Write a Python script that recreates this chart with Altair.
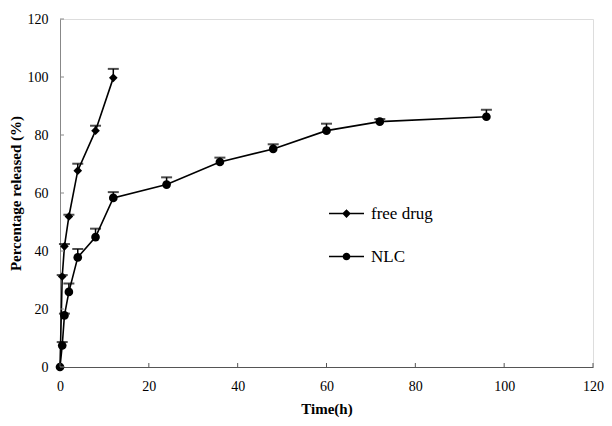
import altair as alt
import pandas as pd

# ---- data ----
free_t = [0, 0.5, 1, 2, 4, 8, 12]
free_y = [0, 31.2, 41.6, 51.9, 67.7, 81.5, 99.7]
free_err = [0, 0.5, 0.8, 0.6, 2.4, 1.7, 3.1]

nlc_t = [0, 0.5, 1, 2, 4, 8, 12, 24, 36, 48, 60, 72, 96]
nlc_y = [0, 7.4, 17.8, 25.9, 37.8, 44.8, 58.3, 62.9, 70.7, 75.2, 81.5, 84.6, 86.3]
nlc_err = [0, 1.2, 0.6, 2.9, 2.9, 2.9, 2.0, 2.5, 1.5, 1.6, 2.4, 0.9, 2.4]

series_names = ["free drug", "NLC"]
x_ticks = [0, 20, 40, 60, 80, 100, 120]
y_ticks = [0, 20, 40, 60, 80, 100, 120]

rows = []
for t, y, e in zip(free_t, free_y, free_err):
    rows.append({"series": series_names[0], "t": t, "y": y, "top": y + e})
for t, y, e in zip(nlc_t, nlc_y, nlc_err):
    rows.append({"series": series_names[1], "t": t, "y": y, "top": y + e})
df = pd.DataFrame(rows)
df_err = df[df["top"] > df["y"]]

W, H = 533, 348
FONT = "'Liberation Serif', 'Times New Roman', Times, serif"

xs = alt.Scale(domain=[0, 120], nice=False, zero=True)
ys = alt.Scale(domain=[0, 120], nice=False, zero=True)

x_enc = alt.X("t:Q", scale=xs, axis=alt.Axis(
    title="Time(h)", values=x_ticks, ticks=False, grid=False,
    domainColor="#555555", domainWidth=1,
    labelFont=FONT, labelFontSize=14, labelColor="black", labelPadding=12,
    titleFont=FONT, titleFontSize=15, titleFontWeight="bold", titleColor="black",
    titlePadding=8, labelFlush=False))
y_enc = alt.Y("y:Q", scale=ys, axis=alt.Axis(
    title="Percentage released (%)", values=y_ticks, ticks=False, grid=False,
    domainColor="#888888", domainWidth=1,
    labelFont=FONT, labelFontSize=14, labelColor="black", labelPadding=12,
    titleFont=FONT, titleFontSize=15, titleFontWeight="bold", titleColor="black",
    titlePadding=4, labelFlush=False))

base = alt.Chart(df)

lines = base.mark_line(color="black", strokeWidth=1.6).encode(
    x=x_enc, y=y_enc, detail="series:N")

err_rule = alt.Chart(df_err).mark_rule(color="black", strokeWidth=1.5).encode(
    x=alt.X("t:Q", scale=xs), y=alt.Y("y:Q", scale=ys), y2="top:Q")
err_cap = alt.Chart(df_err).mark_tick(color="black", thickness=2, size=11,
                                      orient="horizontal").encode(
    x=alt.X("t:Q", scale=xs), y=alt.Y("top:Q", scale=ys))

points = base.mark_point(filled=True, color="black", opacity=1, size=75).encode(
    x=alt.X("t:Q", scale=xs), y=alt.Y("y:Q", scale=ys),
    shape=alt.Shape("series:N", scale=alt.Scale(domain=series_names,
                                                range=["diamond", "circle"]),
                    legend=None))

diamond_path = "M-1,-0.045H1V0.045H-1Z M0,-0.25L0.25,0L0,0.25L-0.25,0Z"
circle_path = ("M-1,-0.045H1V0.045H-1Z M-0.22,0A0.22,0.22 0 1,1 0.22,0"
               "A0.22,0.22 0 1,1 -0.22,0Z")

legend_layer = base.mark_point(filled=True, color="black", opacity=0, size=10).encode(
    x=alt.X("t:Q", scale=xs), y=alt.Y("y:Q", scale=ys),
    shape=alt.Shape("series:N",
                    scale=alt.Scale(domain=series_names,
                                    range=[diamond_path, circle_path]),
                    legend=alt.Legend(title=None, orient="none", legendX=268,
                                      legendY=176, symbolSize=1225,
                                      symbolFillColor="black",
                                      symbolOpacity=1,
                                      labelFont=FONT, labelFontSize=17,
                                      labelColor="black", labelOffset=6,
                                      rowPadding=16, padding=0)))

tick_df_x = pd.DataFrame({"v": x_ticks})
tick_df_y = pd.DataFrame({"v": y_ticks})
xticks = alt.Chart(tick_df_x).mark_rule(color="#555555", strokeWidth=1).encode(
    x=alt.X("v:Q", scale=xs), y=alt.value(H), y2=alt.value(H - 4))
yticks = alt.Chart(tick_df_y).mark_rule(color="#888888", strokeWidth=1).encode(
    y=alt.Y("v:Q", scale=ys), x=alt.value(0), x2=alt.value(4))

chart = alt.layer(lines, err_rule, err_cap, points, legend_layer, xticks, yticks).resolve_scale(
    shape="independent"
).properties(
    width=W, height=H,
    autosize=alt.AutoSizeParams(type="none"),
    padding={"left": 52, "top": 11, "right": 11, "bottom": 51},
).configure_view(stroke=None).configure(background="white", font=FONT)

chart.save("out.html", embed_options={"renderer": "svg", "actions": False})
